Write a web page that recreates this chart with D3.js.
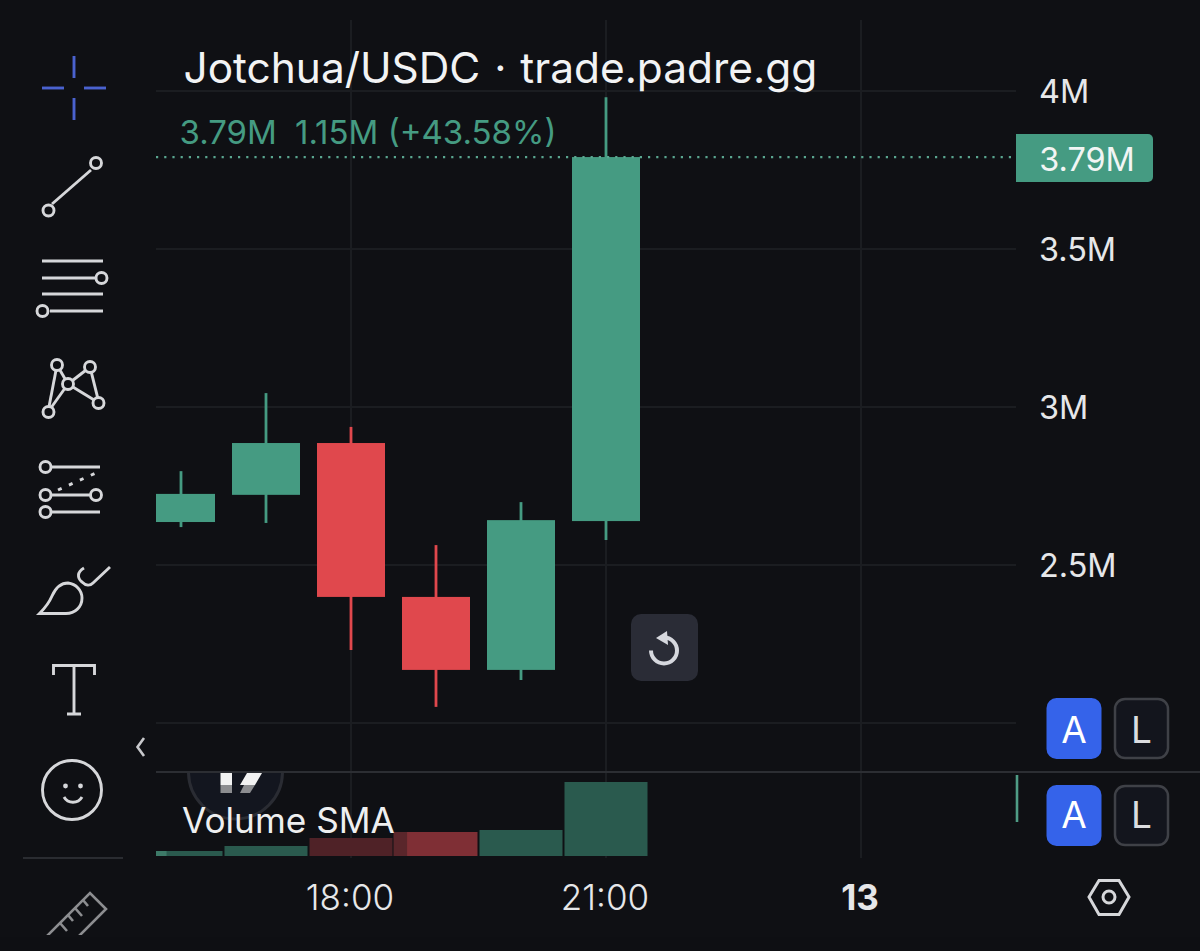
<!DOCTYPE html>
<html><head><meta charset="utf-8">
<script src="https://cdn.jsdelivr.net/npm/d3@7/dist/d3.min.js"></script>
<style>html,body{margin:0;padding:0;background:#0f1014;overflow:hidden}svg{display:block}</style>
</head><body><svg id="c" width="1200" height="951"></svg>
<script>
const hours   = [16, 17, 18, 19, 20, 21];
const opens   = [2.636, 2.722, 2.886, 2.399, 2.168, 2.639];
const closes  = [2.725, 2.886, 2.399, 2.168, 2.642, 3.791];
const highs   = [2.797, 3.044, 2.937, 2.563, 2.699, 3.980];
const lows    = [2.620, 2.633, 2.231, 2.051, 2.136, 2.579];
const volumes = [5, 10, 18, 24, 26, 74];
const priceTicks = [2, 2.5, 3, 3.5, 4];
const priceLabels = ["", "2.5M", "3M", "3.5M", "4M"];
const timeTicks = [18, 21, 24];
const timeLabels = ["18:00", "21:00", "13"];
const title = "Jotchua/USDC · trade.padre.gg";
const legendClose = "3.79M", legendChange = "1.15M (+43.58%)", lastLabel = "3.79M", volumeTitle = "Volume SMA";
const FONT = "Inter, 'Liberation Sans', sans-serif";
const BG="#0f1014", GREEN = "#459b82", RED = "#e0484d", GRID = "#1b1d21", SEP = "#2c2e33", ICON = "#d6d7da", BLUE="#3563ea";
const volumeFill = ["#2a5a4e","#2a5a4e","#4f2227","#7f2f35","#2a5a4e","#2a5a4e"];

const svg = d3.select("#c");
svg.append("rect").attr("width",1200).attr("height",951).attr("fill",BG);

const x = d3.scaleLinear().domain([18,21]).range([351,606]);
const y = d3.scaleLinear().domain([2,4]).range([723,91]);
const v = d3.scaleLinear().domain([0,74]).range([856,782]);

const defs = svg.append("defs");
defs.append("clipPath").attr("id","plot").append("rect").attr("x",156).attr("y",0).attr("width",860).attr("height",772);
defs.append("clipPath").attr("id","volclip").append("rect").attr("x",156).attr("y",773).attr("width",860).attr("height",90);
defs.append("clipPath").attr("id","logoclip").append("rect").attr("x",150).attr("y",773).attr("width",200).attr("height",60);
defs.append("clipPath").attr("id","rul").append("rect").attr("x",0).attr("y",880).attr("width",140).attr("height",55);

// grid
const grid = svg.append("g");
grid.selectAll("line.h").data(priceTicks).join("line").attr("class","h")
  .attr("x1",156).attr("x2",1016).attr("y1",d=>y(d)).attr("y2",d=>y(d)).attr("stroke",GRID).attr("stroke-width",2);
grid.selectAll("line.v").data(timeTicks).join("line").attr("class","v")
  .attr("x1",d=>x(d)).attr("x2",d=>x(d)).attr("y1",20).attr("y2",858).attr("stroke",GRID).attr("stroke-width",2);
svg.append("line").attr("x1",156).attr("x2",1200).attr("y1",772).attr("y2",772).attr("stroke",SEP).attr("stroke-width",2);

// logo behind the volume pane
const logo = svg.append("g").attr("clip-path","url(#logoclip)");
logo.append("circle").attr("cx",235.5).attr("cy",772).attr("r",47).attr("fill","#13161f").attr("stroke","#2a2c33").attr("stroke-width",3);
logo.append("rect").attr("x",220.5).attr("y",773).attr("width",11.5).attr("height",12).attr("fill","#f2f2f2");
logo.append("rect").attr("x",220.5).attr("y",785).attr("width",11.5).attr("height",8).attr("fill","#8c8d90");
logo.append("path").attr("d","M247 773H262L255 785H240Z").attr("fill","#f2f2f2");
logo.append("path").attr("d","M244 785H255L250 793H240Z").attr("fill","#8c8d90");

// candles
const idx = d3.range(hours.length);
const candles = svg.append("g").attr("clip-path","url(#plot)");
candles.selectAll("line").data(idx).join("line")
  .attr("x1",i=>x(hours[i])).attr("x2",i=>x(hours[i]))
  .attr("y1",i=>y(highs[i])).attr("y2",i=>y(lows[i]))
  .attr("stroke",i=>closes[i]>=opens[i]?GREEN:RED).attr("stroke-width",2.8);
candles.selectAll("rect").data(idx).join("rect")
  .attr("x",i=>x(hours[i])-34).attr("width",68)
  .attr("y",i=>y(Math.max(opens[i],closes[i])))
  .attr("height",i=>Math.abs(y(opens[i])-y(closes[i])))
  .attr("fill",i=>closes[i]>=opens[i]?GREEN:RED);

// volume
const vol = svg.append("g").attr("clip-path","url(#volclip)");
vol.selectAll("rect").data(idx).join("rect")
  .attr("x",i=>x(hours[i])-41.5).attr("width",83)
  .attr("y",i=>v(volumes[i])).attr("height",i=>v(0)-v(volumes[i]))
  .attr("fill",i=>volumeFill[i]);
// shaded ends of two volume bars, given in hours and volume units
const shadeFrom = [15.7, 18.5], shadeTo = [15.83, 18.66], shadeVol = [5, 24];
const shadeFill = ["#3d7a68","#5a262b"];
vol.selectAll("rect.s").data(shadeFrom).join("rect").attr("class","s")
  .attr("x",d=>x(d)).attr("width",(d,i)=>x(shadeTo[i])-x(d))
  .attr("y",(d,i)=>v(shadeVol[i])).attr("height",(d,i)=>v(0)-v(shadeVol[i]))
  .attr("fill",(d,i)=>shadeFill[i]);
// volume wick at the right edge
svg.append("line").attr("x1",1017).attr("x2",1017).attr("y1",775).attr("y2",822).attr("stroke","#4f9c85").attr("stroke-width",2.6);

// last price line
svg.append("line").attr("x1",156).attr("x2",1016).attr("y1",y(closes[5])).attr("y2",y(closes[5]))
  .attr("stroke","#5aa690").attr("stroke-width",2.2).attr("stroke-dasharray","2.2 6");
svg.append("path").attr("d","M1016 134H1148a5 5 0 0 1 5 5V177a5 5 0 0 1 -5 5H1016Z").attr("fill",GREEN);
svg.append("text").attr("x",1087).attr("y",170.5).attr("text-anchor","middle").attr("font-family",FONT).attr("font-size",32.4).attr("fill","#f2f5f4").text(lastLabel);

// price labels
svg.append("g").selectAll("text").data(priceTicks).join("text")
  .attr("x",1039).attr("y",d=>y(d)+12).attr("font-family",FONT).attr("font-size",32.4).attr("fill","#e6e7e9")
  .text((d,i)=>priceLabels[i]);
// time labels
svg.append("g").selectAll("text").data(timeTicks).join("text")
  .attr("x",d=>x(d)-1).attr("y",910).attr("text-anchor","middle").attr("font-family",FONT).attr("font-size",(d,i)=>i===2?35:35)
  .attr("font-weight",(d,i)=>i===2?700:300).attr("fill","#e6e7e9").text((d,i)=>timeLabels[i]);

// titles
svg.append("text").attr("x",183.5).attr("y",83).attr("font-family",FONT).attr("font-size",42.4).attr("word-spacing",2).attr("fill","#f2f3f4").text(title);
svg.append("text").attr("x",179.5).attr("y",144).attr("font-family",FONT).attr("font-size",33).attr("fill",GREEN).text(legendClose);
svg.append("text").attr("x",295).attr("y",144).attr("font-family",FONT).attr("font-size",33).attr("fill",GREEN).text(legendChange);
svg.append("text").attr("x",182).attr("y",833).attr("font-family",FONT).attr("font-size",35.2).attr("fill","#eeeff0").text(volumeTitle);

// reset button
const rb = svg.append("g");
rb.append("rect").attr("x",631).attr("y",614).attr("width",67).attr("height",67).attr("rx",10).attr("fill","#2a2c36");
rb.append("path").attr("d","M664 637.5A13 13 0 1 1 651 650.5").attr("fill","none").attr("stroke","#d6d8de").attr("stroke-width",4);
rb.append("path").attr("d","M667 631L656 638L668 645Z").attr("fill","#d6d8de");

// A / L buttons
[698,785].forEach((t,i)=>{
  const base = t + (i===0?45:43);
  svg.append("rect").attr("x",1046.5).attr("y",t).attr("width",55).attr("height",61).attr("rx",10).attr("fill",BLUE);
  svg.append("text").attr("x",1074).attr("y",base).attr("text-anchor","middle").attr("font-family",FONT).attr("font-size",37).attr("fill","#fff").text("A");
  svg.append("rect").attr("x",1115).attr("y",t+1).attr("width",53).attr("height",59).attr("rx",10).attr("fill","#13151d").attr("stroke","#3f4147").attr("stroke-width",2.5);
  svg.append("text").attr("x",1141.5).attr("y",base).attr("text-anchor","middle").attr("font-family",FONT).attr("font-size",37).attr("fill","#dcdde0").text("L");
});

// settings hex
const hex = svg.append("g").attr("fill","none").attr("stroke",ICON).attr("stroke-width",3);
hex.append("path").attr("d","M1089 897L1099 880.5H1119L1129 897L1119 914.5H1099Z");
hex.append("circle").attr("cx",1109).attr("cy",897).attr("r",6);

// collapse chevron and toolbar divider
svg.append("path").attr("d","M144 738L137.5 747L144 756").attr("fill","none").attr("stroke","#c8c9cc").attr("stroke-width",2.6);
svg.append("line").attr("x1",23).attr("x2",123).attr("y1",858).attr("y2",858).attr("stroke","#2a2c31").attr("stroke-width",2);

// toolbar icons
const ic = svg.append("g").attr("fill","none").attr("stroke",ICON).attr("stroke-width",2.9);
const L=(a,b,c,d,s)=>{const l=ic.append("line").attr("x1",a).attr("y1",b).attr("x2",c).attr("y2",d); if(s) l.attr("stroke",s); return l;};
const C=(a,b,r)=>ic.append("circle").attr("cx",a).attr("cy",b).attr("r",r||5.5).attr("fill",BG);
const CB="#4a62cf";
L(42,88,64,88,CB);L(84,88,106,88,CB);L(74,56,74,78,CB);L(74,98,74,120,CB);
L(52,204,91,170);C(48.5,210.5);C(96,163);
L(42,261,103,261);L(42,278,96,278);L(42,294,103,294);L(50,311,103,311);C(101.5,278);C(42.5,311);
L(48,412,57,365);L(48,412,68,384);L(57,365,68,384);L(68,384,90,367);L(68,384,99,403);L(90,367,99,403);
C(57,365);C(90,367);C(68,384);C(48.5,412);C(98.5,403);
L(52,467,100,467);L(52,495,90,495);L(52,512,100,512);C(45.5,467);C(45.5,495);C(96,495);C(45.5,512);
L(58,490,98,472).attr("stroke-dasharray","4 8");
ic.append("path").attr("d","M39.5 613.5C46 607 49 603 52 596C56 587 62 583 68 583C76 584 82 590 82 598C82 607 75 613.5 66 613.5Z");
ic.append("path").attr("d","M84 568C77 572 77 578 82 582C86 586 90 586 93 583L110 567");
ic.append("path").attr("d","M53.5 675V665.5H94.5V675M74 665.5V714M67 714H81");
C(72,790,29.5);
ic.append("path").attr("d","M64 797C68 804 78 804 82 797");
ic.append("circle").attr("cx",65.5).attr("cy",786).attr("r",2.4).attr("fill",ICON).attr("stroke","none");
ic.append("circle").attr("cx",80.5).attr("cy",786).attr("r",2.4).attr("fill",ICON).attr("stroke","none");
const ru = svg.append("g").attr("clip-path","url(#rul)").attr("fill","none").attr("stroke","#8c8d90").attr("stroke-width",2.6);
ru.append("path").attr("d","M46 937L90 893L106 909L78 937M83 900L88 906M75 908L82 916M68 915L73 921M60 923L67 931");
svg.append("rect").attr("x",0).attr("y",937).attr("width",1200).attr("height",14).attr("fill","#0e0f13");
</script></body></html>
